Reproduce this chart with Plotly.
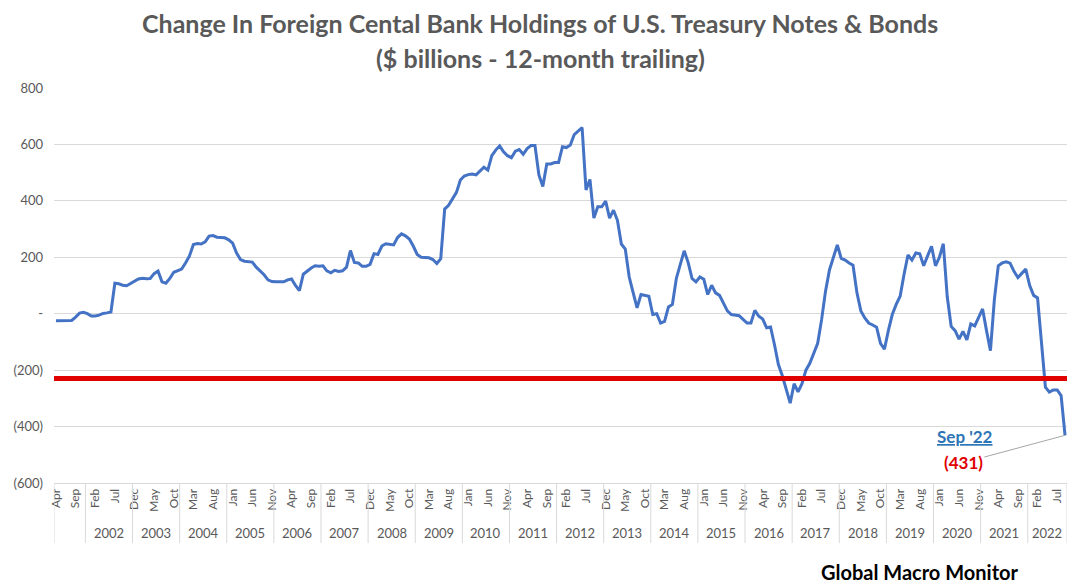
import pandas as pd
import plotly.graph_objects as go

# monthly values, Apr 2001 .. Sep 2022 ($ billions, 12-month trailing change)
values = [
    -25, -25, -25, -25, -24, -12, 2, 5, 0,                              # 2001 Apr-Dec
    -8, -8, -5, 1, 3, 6, 108, 106, 101, 99, 107, 114,                   # 2002
    123, 126, 124, 125, 142, 151, 113, 108, 125, 147, 152, 158,         # 2003
    180, 205, 245, 249, 247, 255, 275, 277, 271, 270, 269, 262,         # 2004
    250, 215, 192, 186, 185, 183, 165, 152, 138, 120, 114, 113,         # 2005
    113, 113, 120, 123, 100, 82, 140, 152, 162, 170, 168, 170,          # 2006
    152, 145, 154, 150, 152, 165, 224, 182, 180, 168, 168, 175,         # 2007
    213, 210, 240, 248, 245, 244, 270, 283, 276, 265, 240, 210,         # 2008
    200, 200, 198, 192, 178, 195, 371, 384, 405, 430, 474, 488,         # 2009
    493, 495, 492, 505, 519, 509, 560, 580, 595, 574, 560, 553,         # 2010
    576, 582, 565, 585, 596, 596, 492, 451, 531, 531, 536, 536,         # 2011
    592, 589, 598, 635, 648, 660, 439, 476, 339, 379, 379, 399,         # 2012
    339, 367, 331, 247, 229, 130, 75, 21, 68, 65, 62, -3,               # 2013
    0, -33, -27, 24, 33, 125, 175, 223, 182, 125, 113, 130,             # 2014
    122, 68, 101, 74, 65, 40, 10, -3, -5, -7, -20, -33,                 # 2015
    -33, 12, -9, -19, -50, -47, -110, -180, -220, -270, -317, -248,     # 2016
    -277, -248, -200, -176, -140, -105, -21, 80, 155, 200, 244, 196,    # 2017
    190, 180, 172, 74, 10, -15, -33, -40, -48, -105, -126, -60,         # 2018
    -3, 33, 62, 140, 208, 190, 215, 212, 170, 205, 239, 170,            # 2019
    200, 248, 60, -45, -60, -90, -63, -93, -36, -43, -10, 17,           # 2020
    -60, -131, 50, 170, 180, 184, 179, 150, 128, 145, 158, 100,         # 2021
    65, 56, -100, -260, -278, -270, -270, -290, -431,                   # 2022 Jan-Sep
]
months = list(pd.date_range("2001-04-01", periods=len(values), freq="MS").strftime("%b"))
year_labels = [str(y) for y in range(2002, 2023)]
y_ticks = [-600, -400, -200, 0, 200, 400, 600, 800]
y_tick_text = ["(600)", "(400)", "(200)", "-", "200", "400", "600", "800"]
threshold = -230

idx = list(range(len(values)))
grey = "#595959"
font = "Lato"


def note(fig, text, x, y, size, color, xref="paper", yref="paper"):
    fig.add_annotation(x=x, y=y, xref=xref, yref=yref, text=text, showarrow=False,
                       xanchor="center", yanchor="middle",
                       font=dict(family=font, size=size, color=color))


fig = go.Figure()
fig.add_trace(go.Scatter(x=idx, y=values, mode="lines",
                         line=dict(color="#4472C4", width=3), hoverinfo="skip"))

fig.add_hline(y=threshold, line=dict(color="#E00000", width=5))

# category boxes under the axis (year groups run Dec..Nov)
bounds = [-0.5] + [7.5 + 12 * k for k in range(len(year_labels))] + [len(values) - 0.5]
for b in bounds:
    fig.add_shape(type="line", xref="x", yref="paper", x0=b, x1=b, y0=0, y1=-0.152,
                  line=dict(color="#D9D9D9", width=1))
for k, yl in enumerate(year_labels):
    note(fig, yl, (bounds[k + 1] + bounds[k + 2]) / 2, -0.127, 13, grey, xref="x")

note(fig, "<b>Change In Foreign Cental Bank Holdings of U.S. Treasury Notes & Bonds</b>",
     0.48, 1.165, 25, grey)
note(fig, "<b>($ billions - 12-month trailing)</b>", 0.48, 1.076, 25, grey)

note(fig, "<b><u>Sep '22</u></b>", 231.6, -436, 17, "#2E75B6", xref="x", yref="y")
fig.add_annotation(x=idx[-1], y=values[-1], xref="x", yref="y",
                   ax=231.1, ay=-528, axref="x", ayref="y",
                   text="<b>(%d)</b>" % abs(values[-1]), showarrow=True, arrowhead=0,
                   arrowwidth=1, arrowcolor="#A6A6A6", standoff=0,
                   font=dict(family=font, size=17, color="#E00000"))

note(fig, "<b>Global Macro Monitor</b>", 0.855, -0.225, 20, "black")

fig.update_layout(
    width=1080, height=586,
    margin=dict(l=54, r=13, t=88, b=103),
    plot_bgcolor="white", paper_bgcolor="white",
    showlegend=False,
    xaxis=dict(range=[-0.5, len(values) - 0.5], tickvals=idx[::5], ticktext=months[::5],
               tickangle=-90, showgrid=False, zeroline=False, ticks="",
               showline=True, linecolor="#D9D9D9", linewidth=1,
               tickfont=dict(family=font, size=12, color=grey)),
    yaxis=dict(range=[-600, 800], tickvals=y_ticks, ticktext=y_tick_text,
               showgrid=True, gridcolor="#D9D9D9", gridwidth=1, zeroline=False,
               ticks="", ticklabelstandoff=10,
               tickfont=dict(family=font, size=13, color=grey)),
)

fig.write_html("out.html", config={"displayModeBar": False},
               post_script="document.body.style.margin='0';")
